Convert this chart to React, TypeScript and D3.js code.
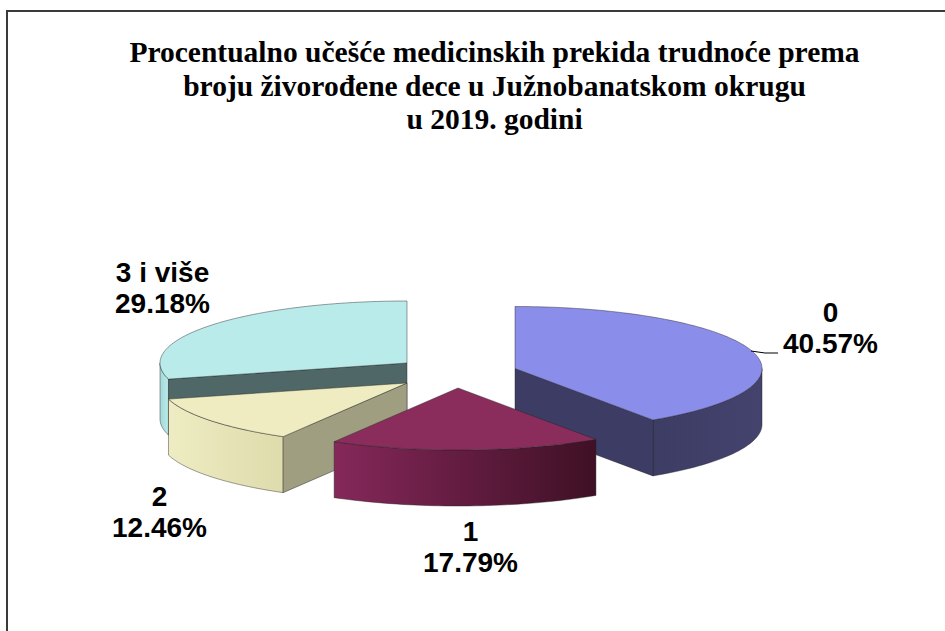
import React from "react";
import * as d3 from "d3";

const categories = ["0", "1", "2", "3 i više"];
const shares = [40.57, 17.79, 12.46, 29.18];
const shareLabels = ["40.57%", "17.79%", "12.46%", "29.18%"];
const titleLines = [
  "Procentualno učešće medicinskih prekida trudnoće prema",
  "broju živorođene dece u Južnobanatskom okrugu",
  "u 2019. godini",
];

// layout, per slice: exploded centre, and label anchor
const centers: [number, number][] = [[515, 368.5], [458, 388], [407, 383], [407, 363]];
const labelPos: [number, number][] = [[830.5, 322], [470.5, 540.5], [159.5, 506], [162.5, 282]];
const topColors = ["#8b8deb", "#8b2d5c", "#eeecc0", "#b9ebeb"];
const wallColors = ["#3d3c64", "#85285a", "#9f9e80", "#4f6767"];
const rimStops = [
  ["#3d3c64", "#44436e"],
  ["#85285a", "#3f1025"],
  ["#eeecc2", "#dedbac"],
  ["#b9ebeb", "#a5d8d8"],
];
const drawOrder = [3, 2, 0, 1];

const RX = 247;
const RY = 62;
const DEPTH = 56;

export default function App() {
  const pie = d3.pie<number>().sort(null).startAngle(0).endAngle(2 * Math.PI);
  const arcs = pie(shares);
  const lineGen = d3.line<[number, number]>();

  const pt = (c: [number, number], a: number, dy = 0): [number, number] => [
    c[0] + RX * Math.sin(a),
    c[1] - RY * Math.cos(a) + dy,
  ];
  const sample = (a0: number, a1: number) => {
    const n = Math.max(2, Math.ceil(Math.abs(a1 - a0) * 40));
    return d3.range(n + 1).map((i) => a0 + ((a1 - a0) * i) / n);
  };

  const slices = arcs.map((arc, i) => {
    const c = centers[i];
    const a0 = arc.startAngle;
    const a1 = arc.endAngle;
    const top = lineGen([c, ...sample(a0, a1).map((a) => pt(c, a))])! + "Z";
    const rimFrom = Math.max(a0, Math.PI / 2);
    const rimTo = Math.min(a1, (3 * Math.PI) / 2);
    let rim: string | null = null;
    let gx: [number, number] = [0, 1];
    if (rimTo > rimFrom) {
      const s = sample(rimFrom, rimTo);
      rim = lineGen([...s.map((a) => pt(c, a)), ...s.slice().reverse().map((a) => pt(c, a, DEPTH))])! + "Z";
      const xa = pt(c, rimFrom)[0];
      const xb = pt(c, rimTo)[0];
      gx = [Math.min(xa, xb), Math.max(xa, xb)];
    }
    const wallAt = (a: number) =>
      lineGen([c, pt(c, a), pt(c, a, DEPTH), [c[0], c[1] + DEPTH]])! + "Z";
    const walls: string[] = [];
    if (Math.sin(a0) < -1e-6) walls.push(wallAt(a0));
    if (Math.sin(a1) > 1e-6) walls.push(wallAt(a1));
    return { i, top, rim, walls, gx };
  });

  const sans = "'Liberation Sans', Arial, sans-serif";
  const serif = "'Liberation Serif', 'Times New Roman', serif";

  return (
    <svg
      width={945}
      height={631}
      style={{ position: "absolute", left: 0, top: 0, display: "block", background: "#fff" }}
    >
      <defs>
        {slices.map((s) => (
          <linearGradient
            key={s.i}
            id={`rim${s.i}`}
            gradientUnits="userSpaceOnUse"
            x1={s.gx[0]}
            x2={s.gx[1]}
            y1={0}
            y2={0}
          >
            <stop offset="0" stopColor={s.i === 3 ? rimStops[3][1] : rimStops[s.i][0]} />
            <stop offset="1" stopColor={s.i === 3 ? rimStops[3][0] : rimStops[s.i][1]} />
          </linearGradient>
        ))}
      </defs>
      <path d="M7,631V11H945" fill="none" stroke="#3a3a3a" strokeWidth={2} />
      <g fontFamily={serif} fontWeight="bold" fontSize={29.5} textAnchor="middle" fill="#000">
        {titleLines.map((t, i) => (
          <text key={i} x={494.5} y={62 + i * 33.5}>
            {t}
          </text>
        ))}
      </g>
      {drawOrder.map((i) => {
        const s = slices[i];
        return (
          <g key={i} stroke="#222" strokeOpacity={0.55} strokeWidth={0.8} strokeLinejoin="round">
            {s.rim && <path d={s.rim} fill={`url(#rim${i})`} />}
            {s.walls.map((d, k) => (
              <path key={k} d={d} fill={wallColors[i]} />
            ))}
            <path d={s.top} fill={topColors[i]} />
          </g>
        );
      })}
      <path d="M751,351L765,353L778,353" fill="none" stroke="#000" strokeWidth={1} />
      <g fontFamily={sans} fontWeight="bold" fontSize={28} textAnchor="middle" fill="#000">
        {categories.map((c, i) => (
          <text key={i} x={labelPos[i][0]} y={labelPos[i][1]}>
            <tspan x={labelPos[i][0]}>{c}</tspan>
            <tspan x={labelPos[i][0]} dy={31.3}>
              {shareLabels[i]}
            </tspan>
          </text>
        ))}
      </g>
    </svg>
  );
}
